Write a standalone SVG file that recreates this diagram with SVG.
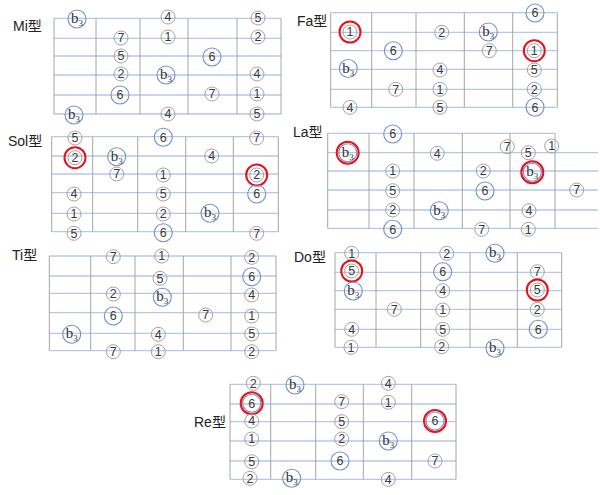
<svg xmlns="http://www.w3.org/2000/svg" width="600" height="495" viewBox="0 0 600 495">
<style>
.str{stroke:#b6c8ea;stroke-width:1.3;fill:none}
.fr{stroke:#a6a6a6;stroke-width:1;fill:none}
.g circle{fill:none;stroke:#a3a3a3;stroke-width:1}
.bl circle{fill:none;stroke:#7390cc;stroke-width:1.1}
circle.rd{fill:none;stroke:#e8101a;stroke-width:2}
text.d{font-family:"Liberation Sans",Arial,sans-serif;font-size:12.5px;fill:#3a3a3a;text-anchor:middle}
text.b{font-family:"Liberation Serif","Times New Roman",serif;font-size:15px;fill:#333;text-anchor:middle}
text.b tspan{font-size:9px}
.lbl{font-family:"Liberation Sans","Noto Sans CJK JP",sans-serif;font-size:14px;fill:#222}
</style>
<rect width="600" height="495" fill="#fff"/>

<g id="mi">
<text class="lbl" x="13" y="31">Mi型</text>
<path class="str" d="M54 18.3H281M54 38.3H281M54 56H281M54 75H281M54 95H281M54 114H281"/>
<path class="fr" d="M54 18.3V114M96 18.3V114M140 18.3V114M188 18.3V114M237 18.3V114M281 18.3V114"/>
<g class="bl" transform="translate(77,19)"><circle r="9"/><text class="b" y="4">b<tspan dy="3">3</tspan></text></g>
<g class="g" transform="translate(168,17)"><circle r="7"/><text class="d" y="4.4">4</text></g>
<g class="g" transform="translate(258,18)"><circle r="7"/><text class="d" y="4.4">5</text></g>
<g class="g" transform="translate(121,38)"><circle r="7"/><text class="d" y="4.4">7</text></g>
<g class="g" transform="translate(168,37)"><circle r="7"/><text class="d" y="4.4">1</text></g>
<g class="g" transform="translate(258,37)"><circle r="7"/><text class="d" y="4.4">2</text></g>
<g class="g" transform="translate(121,56)"><circle r="7"/><text class="d" y="4.4">5</text></g>
<g class="bl" transform="translate(212,57)"><circle r="9"/><text class="d" y="4.4">6</text></g>
<g class="g" transform="translate(121,74)"><circle r="7"/><text class="d" y="4.4">2</text></g>
<g class="bl" transform="translate(166,75)"><circle r="9"/><text class="b" y="4">b<tspan dy="3">3</tspan></text></g>
<g class="g" transform="translate(257,74)"><circle r="7"/><text class="d" y="4.4">4</text></g>
<g class="bl" transform="translate(120,95)"><circle r="9"/><text class="d" y="4.4">6</text></g>
<g class="g" transform="translate(212,94)"><circle r="7"/><text class="d" y="4.4">7</text></g>
<g class="g" transform="translate(257,94)"><circle r="7"/><text class="d" y="4.4">1</text></g>
<g class="bl" transform="translate(74,115)"><circle r="9"/><text class="b" y="4">b<tspan dy="3">3</tspan></text></g>
<g class="g" transform="translate(168,114)"><circle r="7"/><text class="d" y="4.4">4</text></g>
<g class="g" transform="translate(257,114)"><circle r="7"/><text class="d" y="4.4">5</text></g>
</g>

<g id="fa">
<text class="lbl" x="297" y="26">Fa型</text>
<path class="str" d="M330.7 12.7H557.3M330.7 32.3H557.3M330.7 50.7H557.3M330.7 69.3H557.3M330.7 89.3H557.3M330.7 107.3H557.3"/>
<path class="fr" d="M330.7 12.7V107.3M371.7 12.7V107.3M416 12.7V107.3M464.3 12.7V107.3M512.7 12.7V107.3M557.3 12.7V107.3"/>
<g class="bl" transform="translate(535,13)"><circle r="9"/><text class="d" y="4.4">6</text></g>
<g class="g" transform="translate(350,32)"><circle r="7"/><circle class="rd" r="10.5"/><text class="d" y="4.4">1</text></g>
<g class="g" transform="translate(441.7,32.3)"><circle r="7"/><text class="d" y="4.4">2</text></g>
<g class="bl" transform="translate(488.3,32)"><circle r="9"/><text class="b" y="4">b<tspan dy="3">3</tspan></text></g>
<g class="bl" transform="translate(393.3,50.7)"><circle r="9"/><text class="d" y="4.4">6</text></g>
<g class="g" transform="translate(489.3,50.7)"><circle r="7"/><text class="d" y="4.4">7</text></g>
<g class="g" transform="translate(534.3,50.7)"><circle r="7"/><circle class="rd" r="10.5"/><text class="d" y="4.4">1</text></g>
<g class="bl" transform="translate(348.3,68.5)"><circle r="9"/><text class="b" y="4">b<tspan dy="3">3</tspan></text></g>
<g class="g" transform="translate(440,70)"><circle r="7"/><text class="d" y="4.4">4</text></g>
<g class="g" transform="translate(534.3,70)"><circle r="7"/><text class="d" y="4.4">5</text></g>
<g class="g" transform="translate(395.7,89.3)"><circle r="7"/><text class="d" y="4.4">7</text></g>
<g class="g" transform="translate(440,89.3)"><circle r="7"/><text class="d" y="4.4">1</text></g>
<g class="g" transform="translate(534.3,89.3)"><circle r="7"/><text class="d" y="4.4">2</text></g>
<g class="g" transform="translate(350,107.3)"><circle r="7"/><text class="d" y="4.4">4</text></g>
<g class="g" transform="translate(440,107.3)"><circle r="7"/><text class="d" y="4.4">5</text></g>
<g class="bl" transform="translate(535,107.3)"><circle r="9"/><text class="d" y="4.4">6</text></g>
</g>

<g id="sol">
<text class="lbl" x="8" y="146">Sol型</text>
<path class="str" d="M51.7 136.7H278.3M51.7 156H278.3M51.7 174H278.3M51.7 192.7H278.3M51.7 213.3H278.3M51.7 231.7H278.3"/>
<path class="fr" d="M51.7 136.7V231.7M92.7 136.7V231.7M137.7 136.7V231.7M185.7 136.7V231.7M233.3 136.7V231.7M278.3 136.7V231.7"/>
<g class="g" transform="translate(75,138)"><circle r="7"/><text class="d" y="4.4">5</text></g>
<g class="bl" transform="translate(163.3,137.3)"><circle r="9"/><text class="d" y="4.4">6</text></g>
<g class="g" transform="translate(256.7,138)"><circle r="7"/><text class="d" y="4.4">7</text></g>
<g class="g" transform="translate(75,157.7)"><circle r="7"/><circle class="rd" r="10.5"/><text class="d" y="4.4">2</text></g>
<g class="bl" transform="translate(116.7,156.7)"><circle r="9"/><text class="b" y="4">b<tspan dy="3">3</tspan></text></g>
<g class="g" transform="translate(211.7,156)"><circle r="7"/><text class="d" y="4.4">4</text></g>
<g class="g" transform="translate(116.7,174)"><circle r="7"/><text class="d" y="4.4">7</text></g>
<g class="g" transform="translate(163.3,175)"><circle r="7"/><text class="d" y="4.4">1</text></g>
<g class="g" transform="translate(256.7,175)"><circle r="7"/><circle class="rd" r="10.5"/><text class="d" y="4.4">2</text></g>
<g class="g" transform="translate(74,194)"><circle r="7"/><text class="d" y="4.4">4</text></g>
<g class="g" transform="translate(163.3,194)"><circle r="7"/><text class="d" y="4.4">5</text></g>
<g class="bl" transform="translate(256.7,194)"><circle r="9"/><text class="d" y="4.4">6</text></g>
<g class="g" transform="translate(74,214)"><circle r="7"/><text class="d" y="4.4">1</text></g>
<g class="g" transform="translate(163.3,214)"><circle r="7"/><text class="d" y="4.4">2</text></g>
<g class="bl" transform="translate(210,213.3)"><circle r="9"/><text class="b" y="4">b<tspan dy="3">3</tspan></text></g>
<g class="g" transform="translate(74,233.3)"><circle r="7"/><text class="d" y="4.4">5</text></g>
<g class="bl" transform="translate(163.3,232.7)"><circle r="9"/><text class="d" y="4.4">6</text></g>
<g class="g" transform="translate(256.7,233.3)"><circle r="7"/><text class="d" y="4.4">7</text></g>
</g>

<g id="la">
<text class="lbl" x="293" y="137">La型</text>
<path class="str" d="M327.7 133.3H555M327.7 152.7H598M327.7 171H598M327.7 190H598M327.7 210H598M327.7 228.3H598"/>
<path class="fr" d="M327.7 133.3V228.3M369 133.3V228.3M414 133.3V228.3M462.3 133.3V228.3M510 133.3V228.3M555 133.3V228.3"/>
<g class="bl" transform="translate(392.7,134)"><circle r="9"/><text class="d" y="4.4">6</text></g>
<g class="bl" transform="translate(347.7,152.7)"><circle r="9"/><circle class="rd" r="11"/><text class="b" y="4">b<tspan dy="3">3</tspan></text></g>
<g class="g" transform="translate(437.3,153.3)"><circle r="7"/><text class="d" y="4.4">4</text></g>
<g class="g" transform="translate(507.3,146.7)"><circle r="7"/><text class="d" y="4.4">7</text></g>
<g class="g" transform="translate(528.3,152.7)"><circle r="7"/><text class="d" y="4.4">5</text></g>
<g class="g" transform="translate(551.7,146)"><circle r="7"/><text class="d" y="4.4">1</text></g>
<g class="g" transform="translate(392.7,171)"><circle r="7"/><text class="d" y="4.4">1</text></g>
<g class="g" transform="translate(483.3,171)"><circle r="7"/><text class="d" y="4.4">2</text></g>
<g class="bl" transform="translate(532.3,172.3)"><circle r="9"/><circle class="rd" r="11"/><text class="b" y="4">b<tspan dy="3">3</tspan></text></g>
<g class="g" transform="translate(392.7,190.7)"><circle r="7"/><text class="d" y="4.4">5</text></g>
<g class="bl" transform="translate(485,191)"><circle r="9"/><text class="d" y="4.4">6</text></g>
<g class="g" transform="translate(576.7,190)"><circle r="7"/><text class="d" y="4.4">7</text></g>
<g class="g" transform="translate(392.7,210)"><circle r="7"/><text class="d" y="4.4">2</text></g>
<g class="bl" transform="translate(439.3,210.7)"><circle r="9"/><text class="b" y="4">b<tspan dy="3">3</tspan></text></g>
<g class="g" transform="translate(529,210.7)"><circle r="7"/><text class="d" y="4.4">4</text></g>
<g class="bl" transform="translate(392.7,229.3)"><circle r="9"/><text class="d" y="4.4">6</text></g>
<g class="g" transform="translate(481.7,229.3)"><circle r="7"/><text class="d" y="4.4">7</text></g>
<g class="g" transform="translate(528.3,229.3)"><circle r="7"/><text class="d" y="4.4">1</text></g>
</g>

<g id="ti">
<text class="lbl" x="12" y="260">Ti型</text>
<path class="str" d="M49.3 256H276M49.3 276H276M49.3 293.3H276M49.3 312.7H276M49.3 333.3H276M49.3 350.7H276"/>
<path class="fr" d="M49.3 256V350.7M90.7 256V350.7M135 256V350.7M183.3 256V350.7M231 256V350.7M276 256V350.7"/>
<g class="g" transform="translate(113.3,256.7)"><circle r="7"/><text class="d" y="4.4">7</text></g>
<g class="g" transform="translate(161.7,256)"><circle r="7"/><text class="d" y="4.4">1</text></g>
<g class="g" transform="translate(251.7,257.3)"><circle r="7"/><text class="d" y="4.4">2</text></g>
<g class="g" transform="translate(160,278.3)"><circle r="7"/><text class="d" y="4.4">5</text></g>
<g class="bl" transform="translate(251.7,276.7)"><circle r="9"/><text class="d" y="4.4">6</text></g>
<g class="g" transform="translate(113.3,294)"><circle r="7"/><text class="d" y="4.4">2</text></g>
<g class="bl" transform="translate(162.3,297.3)"><circle r="9"/><text class="b" y="4">b<tspan dy="3">3</tspan></text></g>
<g class="g" transform="translate(251.7,295)"><circle r="7"/><text class="d" y="4.4">4</text></g>
<g class="bl" transform="translate(113.3,316)"><circle r="9"/><text class="d" y="4.4">6</text></g>
<g class="g" transform="translate(205.7,315)"><circle r="7"/><text class="d" y="4.4">7</text></g>
<g class="g" transform="translate(251.7,316)"><circle r="7"/><text class="d" y="4.4">1</text></g>
<g class="bl" transform="translate(71.7,334.3)"><circle r="9"/><text class="b" y="4">b<tspan dy="3">3</tspan></text></g>
<g class="g" transform="translate(158.3,334.3)"><circle r="7"/><text class="d" y="4.4">4</text></g>
<g class="g" transform="translate(251.7,334)"><circle r="7"/><text class="d" y="4.4">5</text></g>
<g class="g" transform="translate(113.3,351.7)"><circle r="7"/><text class="d" y="4.4">7</text></g>
<g class="g" transform="translate(158.3,351.7)"><circle r="7"/><text class="d" y="4.4">1</text></g>
<g class="g" transform="translate(251.7,351.7)"><circle r="7"/><text class="d" y="4.4">2</text></g>
</g>

<g id="do">
<text class="lbl" x="294" y="262">Do型</text>
<path class="str" d="M335 252.7H561.7M335 272.3H561.7M335 290.7H561.7M335 309.3H561.7M335 329.3H561.7M335 347.3H561.7"/>
<path class="fr" d="M335 252.7V347.3M376 252.7V347.3M420.7 252.7V347.3M470 252.7V347.3M517.3 252.7V347.3M561.7 252.7V347.3"/>
<g class="g" transform="translate(351.7,253.3)"><circle r="7"/><text class="d" y="4.4">1</text></g>
<g class="g" transform="translate(446.7,253.3)"><circle r="7"/><text class="d" y="4.4">2</text></g>
<g class="bl" transform="translate(495,253.3)"><circle r="9"/><text class="b" y="4">b<tspan dy="3">3</tspan></text></g>
<g class="g" transform="translate(351.7,271)"><circle r="7"/><circle class="rd" r="10.5"/><text class="d" y="4.4">5</text></g>
<g class="bl" transform="translate(442.7,271.7)"><circle r="9"/><text class="d" y="4.4">6</text></g>
<g class="g" transform="translate(537.3,271.7)"><circle r="7"/><text class="d" y="4.4">7</text></g>
<g class="bl" transform="translate(353.3,291)"><circle r="9"/><text class="b" y="4">b<tspan dy="3">3</tspan></text></g>
<g class="g" transform="translate(442.7,290.7)"><circle r="7"/><text class="d" y="4.4">4</text></g>
<g class="g" transform="translate(537.3,290)"><circle r="7"/><circle class="rd" r="10.5"/><text class="d" y="4.4">5</text></g>
<g class="g" transform="translate(394.3,309.3)"><circle r="7"/><text class="d" y="4.4">7</text></g>
<g class="g" transform="translate(442.7,310)"><circle r="7"/><text class="d" y="4.4">1</text></g>
<g class="g" transform="translate(537.3,309.3)"><circle r="7"/><text class="d" y="4.4">2</text></g>
<g class="g" transform="translate(351.7,329.3)"><circle r="7"/><text class="d" y="4.4">4</text></g>
<g class="g" transform="translate(442.7,329.3)"><circle r="7"/><text class="d" y="4.4">5</text></g>
<g class="bl" transform="translate(538.3,329.3)"><circle r="9"/><text class="d" y="4.4">6</text></g>
<g class="g" transform="translate(351,347.3)"><circle r="7"/><text class="d" y="4.4">1</text></g>
<g class="g" transform="translate(441.7,346.7)"><circle r="7"/><text class="d" y="4.4">2</text></g>
<g class="bl" transform="translate(495,348.3)"><circle r="9"/><text class="b" y="4">b<tspan dy="3">3</tspan></text></g>
</g>

<g id="re">
<text class="lbl" x="194" y="427">Re型</text>
<path class="str" d="M230 384.3H456M230 404H456M230 421.7H456M230 441H456M230 461H456M230 479.3H456"/>
<path class="fr" d="M230 384.3V479.3M270.7 384.3V479.3M315.7 384.3V479.3M363.3 384.3V479.3M411.7 384.3V479.3M456 384.3V479.3"/>
<g class="g" transform="translate(253.3,383.3)"><circle r="7"/><text class="d" y="4.4">2</text></g>
<g class="bl" transform="translate(295,385)"><circle r="9"/><text class="b" y="4">b<tspan dy="3">3</tspan></text></g>
<g class="g" transform="translate(388.3,383.3)"><circle r="7"/><text class="d" y="4.4">4</text></g>
<g class="bl" transform="translate(251.7,403.3)"><circle r="9"/><circle class="rd" r="11"/><text class="d" y="4.4">6</text></g>
<g class="g" transform="translate(341.7,401.7)"><circle r="7"/><text class="d" y="4.4">7</text></g>
<g class="g" transform="translate(388.3,402.3)"><circle r="7"/><text class="d" y="4.4">1</text></g>
<g class="g" transform="translate(251.7,421)"><circle r="7"/><text class="d" y="4.4">4</text></g>
<g class="g" transform="translate(341.7,421.7)"><circle r="7"/><text class="d" y="4.4">5</text></g>
<g class="bl" transform="translate(435,421)"><circle r="9"/><circle class="rd" r="11"/><text class="d" y="4.4">6</text></g>
<g class="g" transform="translate(251.7,439)"><circle r="7"/><text class="d" y="4.4">1</text></g>
<g class="g" transform="translate(341.7,439)"><circle r="7"/><text class="d" y="4.4">2</text></g>
<g class="bl" transform="translate(388.3,441)"><circle r="9"/><text class="b" y="4">b<tspan dy="3">3</tspan></text></g>
<g class="g" transform="translate(251.7,461.7)"><circle r="7"/><text class="d" y="4.4">5</text></g>
<g class="bl" transform="translate(340,461)"><circle r="9"/><text class="d" y="4.4">6</text></g>
<g class="g" transform="translate(435,461)"><circle r="7"/><text class="d" y="4.4">7</text></g>
<g class="g" transform="translate(250,478.3)"><circle r="7"/><text class="d" y="4.4">2</text></g>
<g class="bl" transform="translate(291.7,478.3)"><circle r="9"/><text class="b" y="4">b<tspan dy="3">3</tspan></text></g>
<g class="g" transform="translate(388.3,479.3)"><circle r="7"/><text class="d" y="4.4">4</text></g>
</g>
</svg>
